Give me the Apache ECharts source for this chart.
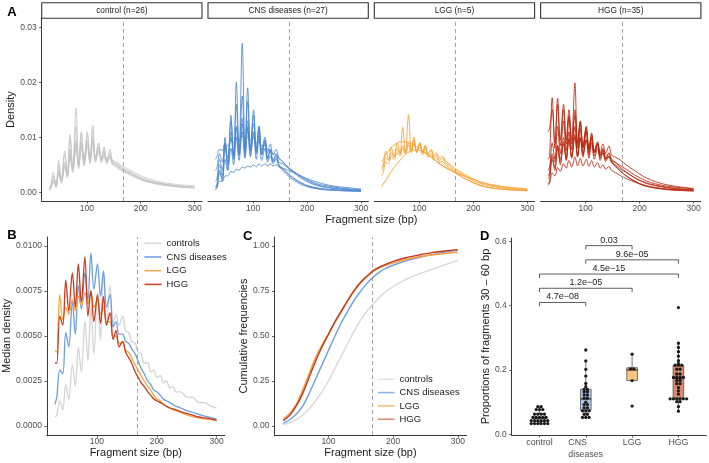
<!DOCTYPE html>
<html><head><meta charset="utf-8">
<script src="https://cdn.jsdelivr.net/npm/echarts@6/dist/echarts.min.js"></script>
<style>html,body{margin:0;padding:0;background:#fff}#c{width:709px;height:463px}</style>
</head><body><div id="c"></div>
<script>
const FONT = "'Liberation Sans', Arial, Helvetica, sans-serif";

// ---------- Panel A: per-sample densities ----------
const facetLabels = ['control (n=26)', 'CNS diseases (n=27)', 'LGG (n=5)', 'HGG (n=35)'];
const xA = [30,33,38,43,48,53,59,64,69,74,80,85,90,95,101,106,111,116,122,127,132,137,143,148,155,165,175,190,205,220,240,260,280,300];
const controlLines = [
 [.0006,.0008,.0030,.0012,.0050,.0022,.0070,.0035,.0100,.0045,.0153,.0055,.0110,.0060,.0105,.0062,.0122,.0062,.0090,.0060,.0080,.0058,.0072,.0056,.0052,.0044,.0038,.0030,.0023,.0019,.0015,.0012,.0010,.0009],
 [.0005,.0007,.0037,.0010,.0058,.0020,.0075,.0030,.0105,.0042,.0120,.0050,.0107,.0055,.0110,.0058,.0115,.0060,.0089,.0058,.0082,.0056,.0078,.0054,.0052,.0045,.0040,.0032,.0025,.0020,.0016,.0013,.0011,.0010],
 [.0008,.0010,.0020,.0014,.0035,.0022,.0048,.0030,.0068,.0040,.0085,.0048,.0088,.0054,.0090,.0058,.0095,.0062,.0080,.0062,.0074,.0060,.0068,.0058,.0055,.0048,.0043,.0035,.0028,.0023,.0018,.0015,.0013,.0012],
 [.0004,.0006,.0018,.0009,.0032,.0016,.0045,.0026,.0065,.0036,.0080,.0043,.0082,.0048,.0085,.0052,.0090,.0055,.0076,.0056,.0068,.0055,.0064,.0052,.0048,.0041,.0036,.0029,.0022,.0018,.0014,.0011,.0009,.0008],
 [.0010,.0012,.0028,.0016,.0040,.0025,.0055,.0035,.0078,.0046,.0095,.0052,.0092,.0058,.0095,.0060,.0100,.0062,.0082,.0060,.0072,.0058,.0066,.0055,.0050,.0042,.0037,.0029,.0023,.0019,.0015,.0012,.0010,.0009],
 [.0006,.0008,.0022,.0012,.0038,.0020,.0052,.0032,.0072,.0040,.0090,.0046,.0086,.0050,.0088,.0054,.0092,.0056,.0075,.0054,.0066,.0052,.0062,.0050,.0046,.0039,.0034,.0027,.0021,.0017,.0013,.0011,.0009,.0008]
];
const cnsLines = [
 [.0005,.0008,.0040,.0020,.0090,.0040,.0140,.0060,.0200,.0070,.0271,.0080,.0190,.0080,.0150,.0075,.0120,.0070,.0095,.0062,.0075,.0055,.0062,.0048,.0040,.0030,.0022,.0014,.0009,.0006,.0004,.0003,.0002,.0002],
 [.0010,.0014,.0050,.0030,.0100,.0050,.0130,.0065,.0160,.0070,.0175,.0072,.0165,.0075,.0140,.0072,.0120,.0068,.0095,.0060,.0078,.0056,.0066,.0050,.0044,.0034,.0026,.0017,.0011,.0008,.0005,.0004,.0003,.0002],
 [.0060,.0065,.0078,.0076,.0088,.0084,.0095,.0090,.0100,.0095,.0102,.0098,.0100,.0095,.0098,.0090,.0092,.0085,.0085,.0078,.0076,.0070,.0068,.0062,.0055,.0045,.0036,.0025,.0017,.0012,.0008,.0006,.0004,.0003],
 [.0005,.0008,.0020,.0020,.0030,.0030,.0038,.0036,.0042,.0040,.0046,.0044,.0048,.0046,.0050,.0046,.0052,.0048,.0052,.0048,.0052,.0048,.0050,.0046,.0044,.0040,.0036,.0029,.0023,.0018,.0013,.0010,.0008,.0006],
 [.0020,.0024,.0060,.0040,.0085,.0055,.0110,.0065,.0120,.0070,.0135,.0072,.0130,.0075,.0125,.0078,.0118,.0076,.0100,.0072,.0088,.0068,.0078,.0062,.0056,.0046,.0038,.0027,.0019,.0013,.0009,.0007,.0005,.0004],
 [.0008,.0012,.0035,.0025,.0060,.0040,.0080,.0050,.0100,.0058,.0110,.0062,.0115,.0068,.0110,.0070,.0105,.0068,.0090,.0062,.0078,.0058,.0070,.0055,.0052,.0044,.0038,.0029,.0021,.0015,.0011,.0008,.0006,.0005],
 [.0040,.0045,.0070,.0055,.0090,.0062,.0100,.0065,.0118,.0066,.0125,.0065,.0120,.0064,.0105,.0060,.0098,.0058,.0080,.0055,.0066,.0052,.0060,.0048,.0042,.0033,.0025,.0016,.0010,.0007,.0005,.0004,.0003,.0002]
];
const lggLines = [
 [.0045,.0050,.0075,.0060,.0082,.0065,.0090,.0070,.0118,.0072,.0141,.0075,.0100,.0072,.0090,.0068,.0080,.0064,.0070,.0058,.0062,.0054,.0056,.0050,.0045,.0038,.0031,.0022,.0015,.0010,.0007,.0005,.0004,.0003],
 [.0055,.0060,.0070,.0075,.0082,.0086,.0090,.0092,.0092,.0092,.0090,.0088,.0086,.0083,.0080,.0076,.0072,.0068,.0064,.0060,.0056,.0052,.0049,.0046,.0042,.0036,.0030,.0022,.0016,.0011,.0007,.0005,.0004,.0003],
 [.0010,.0015,.0022,.0030,.0038,.0045,.0052,.0058,.0064,.0069,.0073,.0075,.0077,.0077,.0076,.0074,.0071,.0068,.0064,.0060,.0056,.0052,.0048,.0045,.0041,.0037,.0033,.0027,.0022,.0017,.0013,.0010,.0008,.0006],
 [.0040,.0045,.0062,.0058,.0072,.0064,.0080,.0070,.0085,.0072,.0092,.0075,.0095,.0074,.0090,.0072,.0086,.0068,.0076,.0062,.0068,.0058,.0062,.0054,.0049,.0041,.0035,.0026,.0019,.0014,.0010,.0007,.0005,.0004],
 [.0030,.0036,.0055,.0052,.0065,.0060,.0072,.0066,.0080,.0070,.0086,.0072,.0090,.0073,.0088,.0072,.0084,.0070,.0078,.0066,.0072,.0062,.0066,.0058,.0052,.0044,.0038,.0029,.0022,.0016,.0012,.0009,.0007,.0005]
];
const hggLines = [
 [.0110,.0115,.0150,.0090,.0171,.0095,.0160,.0095,.0150,.0095,.0199,.0090,.0130,.0085,.0120,.0080,.0105,.0075,.0088,.0068,.0075,.0062,.0065,.0056,.0048,.0038,.0030,.0020,.0013,.0009,.0006,.0004,.0003,.0002],
 [.0060,.0065,.0172,.0080,.0160,.0085,.0150,.0088,.0140,.0088,.0150,.0086,.0125,.0082,.0112,.0078,.0100,.0072,.0085,.0066,.0072,.0060,.0064,.0055,.0047,.0038,.0030,.0021,.0014,.0010,.0007,.0005,.0004,.0003],
 [.0030,.0035,.0090,.0060,.0120,.0070,.0130,.0075,.0135,.0078,.0140,.0080,.0128,.0080,.0118,.0078,.0108,.0074,.0092,.0068,.0080,.0064,.0072,.0060,.0055,.0045,.0037,.0027,.0019,.0014,.0010,.0007,.0005,.0004],
 [.0015,.0020,.0060,.0040,.0085,.0050,.0100,.0058,.0110,.0062,.0120,.0065,.0115,.0068,.0110,.0068,.0100,.0066,.0088,.0062,.0078,.0060,.0070,.0058,.0054,.0048,.0042,.0032,.0024,.0018,.0013,.0010,.0008,.0006],
 [.0040,.0045,.0070,.0055,.0085,.0060,.0092,.0062,.0098,.0064,.0105,.0064,.0100,.0064,.0095,.0062,.0090,.0060,.0080,.0058,.0072,.0056,.0066,.0054,.0050,.0042,.0036,.0027,.0020,.0015,.0011,.0008,.0006,.0005],
 [.0025,.0030,.0065,.0045,.0080,.0055,.0088,.0060,.0095,.0065,.0100,.0068,.0098,.0070,.0096,.0072,.0095,.0072,.0090,.0072,.0088,.0070,.0084,.0068,.0064,.0058,.0050,.0040,.0030,.0023,.0016,.0012,.0009,.0007],
 [.0013,.0016,.0035,.0030,.0045,.0038,.0052,.0044,.0058,.0046,.0064,.0048,.0062,.0048,.0060,.0047,.0058,.0046,.0054,.0044,.0050,.0042,.0047,.0040,.0036,.0030,.0025,.0019,.0014,.0010,.0007,.0005,.0004,.0003]
];
const densityTicks = [0, 0.01, 0.02, 0.03];
const sizeTicks = [100, 200, 300];
const cutoffBp = 167;

// ---------- Panel B: median density ----------
const groupNames = ['controls', 'CNS diseases', 'LGG', 'HGG'];
const xB = [30,33,38,43,48,53,59,64,69,74,80,85,90,95,101,106,111,116,122,127,132,137,143,148,153,158,164,169,174,179,185,190,195,200,206,211,216,222,227,232,240,250,260,270,280,290,300];
const medControls = [.0005,.0006,.0014,.0009,.0023,.0015,.0034,.0022,.0044,.0030,.0058,.0036,.0066,.0040,.0074,.0048,.0086,.0056,.0078,.0057,.0062,.0056,.0061,.0053,.0052,.0047,.0046,.0041,.0040,.0035,.0035,.0030,.0031,.0027,.0028,.0024,.0025,.0021,.0022,.0019,.0019,.0016,.0016,.0013,.0013,.0011,.0010];
const medCNS = [.0012,.0016,.0031,.0029,.0052,.0044,.0069,.0051,.0078,.0065,.0085,.0070,.0096,.0076,.0090,.0072,.0086,.0066,.0073,.0055,.0058,.0051,.0051,.0047,.0046,.0043,.0040,.0036,.0032,.0029,.0025,.0023,.0020,.0019,.0017,.0015,.0014,.0013,.0012,.0011,.0010,.00085,.00075,.00065,.00055,.00047,.0004];
const medLGG = [.0042,.0041,.0073,.0059,.0066,.0062,.0070,.0064,.0072,.0067,.0074,.0068,.0075,.0066,.0070,.0062,.0066,.0058,.0058,.0050,.0050,.0046,.0046,.0042,.0041,.0038,.0034,.0031,.0028,.0025,.0022,.0020,.0017,.0015,.0014,.0012,.0011,.0010,.0009,.00085,.00075,.00062,.00052,.00045,.0004,.00035,.0003];
const medHGG = [.0035,.0035,.0061,.0056,.0081,.0064,.0085,.0066,.0090,.0069,.0094,.0061,.0075,.0058,.0073,.0057,.0072,.0056,.0063,.0048,.0053,.0044,.0047,.0041,.0038,.0035,.0030,.0027,.0024,.0022,.0019,.0017,.0015,.0014,.0013,.0012,.0011,.0010,.00095,.0009,.0008,.0007,.0006,.0005,.00045,.0004,.00033];
const medianTicks = [0, 0.0025, 0.005, 0.0075, 0.01];

// ---------- Panel C: cumulative frequencies ----------
const xC = [30,40,50,60,70,80,90,100,110,120,130,140,150,160,170,180,190,200,220,240,260,280,300];
const cumControls = [.008,.018,.035,.06,.095,.14,.19,.25,.32,.39,.46,.53,.59,.64,.68,.72,.75,.775,.815,.845,.87,.895,.92];
const cumCNS = [.015,.035,.065,.11,.18,.26,.34,.42,.50,.575,.64,.70,.75,.795,.83,.858,.878,.893,.917,.936,.952,.966,.976];
const cumLGG = [.04,.07,.12,.20,.29,.38,.45,.51,.575,.635,.695,.75,.795,.83,.86,.88,.895,.905,.925,.94,.95,.958,.965];
const cumHGG = [.03,.06,.11,.18,.27,.36,.44,.51,.58,.64,.70,.755,.80,.835,.865,.885,.90,.915,.935,.95,.963,.972,.98];
const cumTicks = [0, 0.25, 0.5, 0.75, 1];

// ---------- Panel D: proportion of 30-60 bp fragments ----------
const dCategories = ['control', 'CNS\ndiseases', 'LGG', 'HGG'];
const propControl = [.031,.032,.033,.034,.035,.036,.040,.041,.042,.043,.044,.045,.050,.051,.052,.053,.055,.060,.062,.064,.066,.075,.077,.079,.085,.087];
const propCNS = [.05,.052,.055,.06,.065,.07,.074,.076,.08,.085,.09,.095,.1,.11,.115,.12,.125,.13,.135,.138,.142,.148,.158,.181,.202,.228,.262];
const propLGG = [.088,.167,.200,.207,.249];
const propHGG = [.072,.086,.098,.105,.108,.110,.110,.111,.112,.113,.125,.135,.145,.155,.16,.165,.17,.174,.175,.176,.18,.185,.19,.2,.205,.212,.216,.218,.22,.229,.243,.257,.27,.283,.394];
const comparisons = [[0,1,'4.7e\u221208'],[0,2,'1.2e\u221205'],[0,3,'4.5e\u221215'],[1,3,'9.6e\u221205'],[1,2,'0.03']];
const propTicks = [0, 0.2, 0.4, 0.6];

// ---------- styling ----------
const colorsA = ['#c4c4c4', '#4b87cf', '#f89d2c', '#b8270e'];
const colorsB = ['#d3d3d3', '#6a9edd', '#f6a440', '#c43b1f'];
const colorsC = ['#d8d8d8', '#6c9fe0', '#f5a03a', '#c0361a'];
const legendColB = ['#d8d8d8', '#72a3e0', '#f6ab52', '#c9492d'];
const legendColC = ['#e3e3e3', '#8fb5e8', '#f8bd78', '#d9907e'];
const boxFills = ['#e6e6e6', '#a9c3e9', '#fbc47e', '#d98a70'];
const leftsA = [41.7, 208.0, 374.3, 540.6];
const panelW = 160.3;

function mkAxis(o) {
  return {
    type: 'value', gridIndex: o.grid, min: o.min, max: o.max, show: o.show !== false,
    splitLine: {show: false},
    axisLine: {show: true, onZero: false, lineStyle: {color: '#222', width: 0.9}},
    axisTick: {show: true, length: 2.5, customValues: o.ticks, lineStyle: {color: '#333', width: 0.8}},
    axisLabel: {show: true, customValues: o.ticks, formatter: o.fmt, margin: o.margin,
      fontSize: o.fontSize || 8.5, color: '#4d4d4d', fontFamily: FONT,
      lineHeight: o.lineHeight, rich: o.rich},
    name: o.name || '', nameLocation: 'middle', nameGap: o.nameGap || 0,
    nameRotate: o.nameRotate || 0,
    nameTextStyle: {fontSize: 11, color: '#1a1a1a', fontFamily: FONT},
    silent: true
  };
}

const grids = leftsA.map(l => ({left: l, top: 18.3, width: panelW, height: 182.7}));
grids.push({left: 45.7, top: 237, width: 179, height: 198});
grids.push({left: 274.5, top: 237, width: 192, height: 198});
grids.push({left: 511.7, top: 238, width: 194.5, height: 197});

const xAxes = [], yAxes = [];
for (let i = 0; i < 4; i++) {
  xAxes.push(mkAxis({grid: i, min: 16.5, max: 313.5, ticks: sizeTicks, fmt: v => String(v), margin: 3}));
  yAxes.push(mkAxis({grid: i, min: -0.00158, max: 0.03164, ticks: densityTicks, fmt: v => v.toFixed(2), margin: 5,
    show: i === 0, name: i === 0 ? 'Density' : '', nameGap: 24, nameRotate: 90}));
}
xAxes.push(mkAxis({grid: 4, min: 16.5, max: 313.5, ticks: sizeTicks, fmt: v => String(v), margin: 2.5, name: 'Fragment size (bp)', nameGap: 12.5}));
yAxes.push(mkAxis({grid: 4, min: -0.0005, max: 0.0105, ticks: medianTicks, fmt: v => v.toFixed(4), margin: 5, name: 'Median density', nameGap: 31, nameRotate: 90}));
xAxes.push(mkAxis({grid: 5, min: 16.5, max: 313.5, ticks: sizeTicks, fmt: v => String(v), margin: 2.5, name: 'Fragment size (bp)', nameGap: 12.5}));
yAxes.push(mkAxis({grid: 5, min: -0.05, max: 1.05, ticks: cumTicks, fmt: v => v.toFixed(2), margin: 5, name: 'Cumulative frequencies', nameGap: 25, nameRotate: 90}));
xAxes.push(mkAxis({grid: 6, min: 0.4, max: 4.6, ticks: [1, 2, 3, 4], margin: 2, fontSize: 8.8, lineHeight: 12,
  fmt: v => { const s = dCategories[Math.round(v) - 1]; return s.indexOf('\n') >= 0 ? s.split('\n').map(t => '{l|' + t + '}').join('\n') : s; },
  rich: {l: {width: 35, align: 'left', fontSize: 8.8, color: '#4d4d4d', fontFamily: FONT, lineHeight: 12}}}));
yAxes.push(mkAxis({grid: 6, min: -0.002, max: 0.61, ticks: propTicks, fmt: v => v.toFixed(1), margin: 5, name: 'Proportions of fragments 30 \u2013 60 bp', nameGap: 20, nameRotate: 90}));

const vline = {silent: true, symbol: ['none', 'none'], label: {show: false},
  lineStyle: {type: [4, 3], color: '#9a9a9a', width: 0.9}, data: [{xAxis: cutoffBp}]};

const series = [];
[controlLines, cnsLines, lggLines, hggLines].forEach((lines, gi) => {
  lines.forEach((vals, k) => {
    series.push({
      type: 'line', name: facetLabels[gi] + ' #' + (k + 1), xAxisIndex: gi, yAxisIndex: gi,
      data: xA.map((x, i) => [x, vals[i]]), symbol: 'none', showSymbol: false, smooth: 0.35,
      lineStyle: {color: colorsA[gi], width: 1.0, opacity: 0.85}, itemStyle: {color: colorsA[gi]},
      silent: true, z: 2, markLine: k === 0 ? vline : undefined
    });
  });
});
[medControls, medCNS, medLGG, medHGG].forEach((vals, gi) => {
  series.push({
    type: 'line', name: groupNames[gi], xAxisIndex: 4, yAxisIndex: 4,
    data: xB.map((x, i) => [x, vals[i]]), symbol: 'none', showSymbol: false, smooth: 0.35,
    lineStyle: {color: colorsB[gi], width: 1.3}, itemStyle: {color: colorsB[gi]},
    silent: true, z: 2 + gi, markLine: gi === 0 ? vline : undefined
  });
});
[cumControls, cumCNS, cumLGG, cumHGG].forEach((vals, gi) => {
  series.push({
    type: 'line', name: groupNames[gi], xAxisIndex: 5, yAxisIndex: 5,
    data: xC.map((x, i) => [x, vals[i]]), symbol: 'none', showSymbol: false, smooth: 0.3,
    lineStyle: {color: colorsC[gi], width: 1.4}, itemStyle: {color: colorsC[gi]},
    silent: true, z: 2 + gi, markLine: gi === 0 ? vline : undefined
  });
});

// boxplot statistics (Tukey)
const dGroups = [propControl, propCNS, propLGG, propHGG];
function q(sorted, p) { const h = (sorted.length - 1) * p, lo = Math.floor(h), hi = Math.min(lo + 1, sorted.length - 1); return sorted[lo] + (h - lo) * (sorted[hi] - sorted[lo]); }
const boxData = dGroups.map((vals, i) => {
  const s = vals.slice().sort((a, b) => a - b);
  const q1 = q(s, 0.25), md = q(s, 0.5), q3 = q(s, 0.75), iqr = q3 - q1;
  const lo = Math.min(...s.filter(v => v >= q1 - 1.5 * iqr));
  const hi = Math.max(...s.filter(v => v <= q3 + 1.5 * iqr));
  return [i + 1, lo, q1, md, q3, hi];
});
const BOXW = 0.23;
series.push({
  type: 'custom', name: 'box', xAxisIndex: 6, yAxisIndex: 6, silent: true, z: 2,
  data: boxData, encode: {x: 0, y: [1, 2, 3, 4, 5]},
  renderItem: (params, api) => {
    const x = api.value(0);
    const lo = api.coord([x, api.value(1)]), q1 = api.coord([x, api.value(2)]), md = api.coord([x, api.value(3)]);
    const q3 = api.coord([x, api.value(4)]), hi = api.coord([x, api.value(5)]);
    const hw = api.size([BOXW, 0])[0] / 2, cx = q1[0];
    const st = {stroke: '#555', lineWidth: 0.8};
    return {type: 'group', children: [
      {type: 'line', shape: {x1: cx, y1: q3[1], x2: cx, y2: hi[1]}, style: st},
      {type: 'line', shape: {x1: cx, y1: q1[1], x2: cx, y2: lo[1]}, style: st},
      {type: 'rect', shape: {x: cx - hw, y: q3[1], width: 2 * hw, height: q1[1] - q3[1]}, style: {fill: boxFills[params.dataIndex], stroke: '#555', lineWidth: 0.8}},
      {type: 'line', shape: {x1: cx - hw, y1: md[1], x2: cx + hw, y2: md[1]}, style: {stroke: '#333', lineWidth: 1.3}}
    ]};
  }
});
// dot plot (stacked centre), binned
const BIN = 0.008, DOT = 3.3;
const dotData = [];
dGroups.forEach((vals, i) => {
  const s = vals.slice().sort((a, b) => a - b);
  let j = 0;
  while (j < s.length) {
    let k = j; while (k + 1 < s.length && s[k + 1] - s[j] < BIN) k++;
    const n = k - j + 1, c = (s[j] + s[k]) / 2;
    for (let m = 0; m < n; m++) dotData.push([i + 1, c, m, n]);
    j = k + 1;
  }
});
series.push({
  type: 'custom', name: 'dots', xAxisIndex: 6, yAxisIndex: 6, silent: true, z: 3,
  data: dotData, encode: {x: 0, y: 1},
  renderItem: (params, api) => {
    const p = api.coord([api.value(0), api.value(1)]);
    const k = api.value(2), n = api.value(3);
    return {type: 'circle', shape: {cx: p[0] + (k - (n - 1) / 2) * DOT, cy: p[1], r: DOT / 2}, style: {fill: '#1a1a1a'}};
  }
});
// significance brackets
const allMax = Math.max(...dGroups.map(g => Math.max(...g)));
const TIP = 0.012;
series.push({
  type: 'custom', name: 'brackets', xAxisIndex: 6, yAxisIndex: 6, silent: true, z: 4,
  data: comparisons.map((c, idx) => [c[0] + 1, c[1] + 1, allMax * (1.04 + 0.112 * idx)]),
  encode: {x: [0, 1], y: 2},
  renderItem: (params, api) => {
    const a = api.coord([api.value(0), api.value(2)]), b = api.coord([api.value(1), api.value(2)]);
    const tip = api.size([0, TIP])[1];
    return {type: 'group', children: [
      {type: 'polyline', shape: {points: [[a[0], a[1] + tip], [a[0], a[1]], [b[0], b[1]], [b[0], b[1] + tip]]}, style: {stroke: '#333', lineWidth: 0.8, fill: 'none'}},
      {type: 'text', x: (a[0] + b[0]) / 2, y: a[1] - 1, style: {text: comparisons[params.dataIndex][2], align: 'center', verticalAlign: 'bottom', fontSize: 9, fontFamily: FONT, fill: '#1a1a1a'}}
    ]};
  }
});

const graphic = [];
facetLabels.forEach((t, i) => {
  graphic.push({type: 'rect', shape: {x: leftsA[i], y: 2.7, width: panelW, height: 15.6}, style: {fill: '#fff', stroke: '#333', lineWidth: 1.1}, silent: true});
  graphic.push({type: 'text', x: leftsA[i] + panelW / 2, y: 10.6, style: {text: t, align: 'center', verticalAlign: 'middle', fontSize: 8.3, fontFamily: FONT, fill: '#1a1a1a'}, silent: true});
});
graphic.push({type: 'text', x: 371.3, y: 219.5, style: {text: 'Fragment size (bp)', align: 'center', verticalAlign: 'middle', fontSize: 11, fontFamily: FONT, fill: '#1a1a1a'}, silent: true});
[['A', 7.3, 12.5], ['B', 7.3, 235], ['C', 243, 236.5], ['D', 480, 236]].forEach(([t, x, y]) => {
  graphic.push({type: 'text', x: x, y: y, style: {text: t, align: 'left', verticalAlign: 'middle', fontSize: 13, fontWeight: 'bold', fontFamily: FONT, fill: '#000'}, silent: true});
});

const legendBase = {orient: 'vertical', icon: 'rect', itemHeight: 1.6, padding: 0, selectedMode: false,
  textStyle: {fontSize: 9.5, color: '#1a1a1a', fontFamily: FONT, lineHeight: 12}};
const legends = [
  Object.assign({}, legendBase, {left: 144.5, top: 237.3, itemWidth: 17, itemGap: 1.7,
    data: groupNames.map((n, i) => ({name: n, itemStyle: {color: legendColB[i]}}))}),
  Object.assign({}, legendBase, {left: 378, top: 373.3, itemWidth: 16.5, itemGap: 1.3,
    data: groupNames.map((n, i) => ({name: n, itemStyle: {color: legendColC[i]}}))})
];

const chart = echarts.init(document.getElementById('c'), null, {renderer: 'canvas'});
chart.setOption({
  animation: false, backgroundColor: '#fff',
  grid: grids, xAxis: xAxes, yAxis: yAxes, series: series, legend: legends, graphic: graphic
});
</script></body></html>
